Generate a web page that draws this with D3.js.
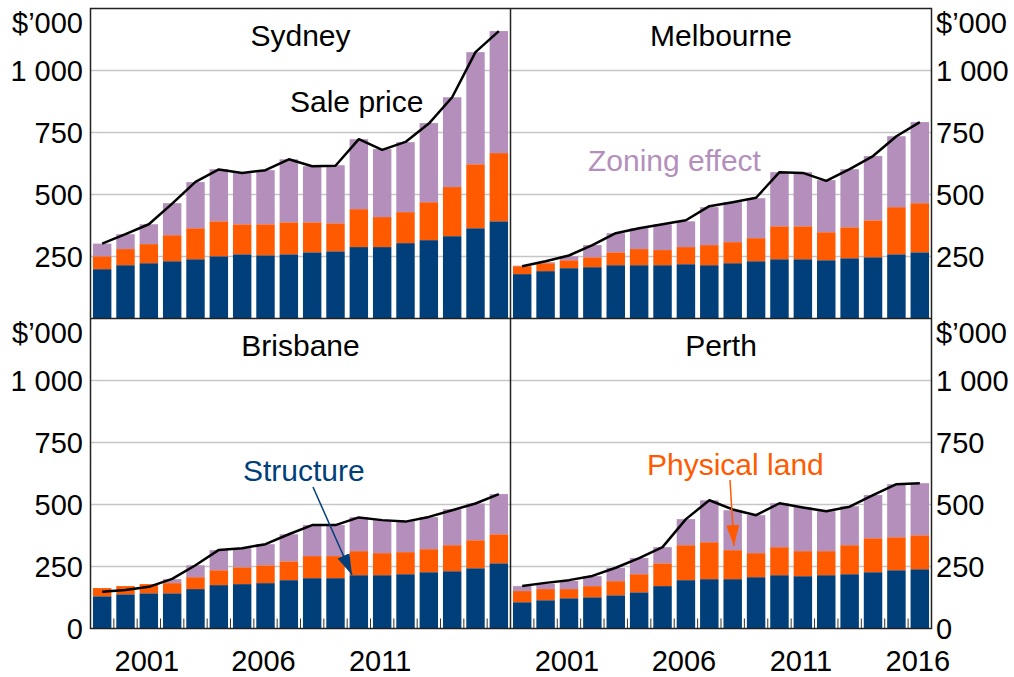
<!DOCTYPE html>
<html>
<head>
<meta charset="utf-8">
<script src="https://d3js.org/d3.v7.min.js"></script>
<style>
  body { margin: 0; background: #fff; }
  svg { display: block; font-family: "Liberation Sans", Arial, sans-serif; }
</style>
</head>
<body>
<div id="chart"></div>
<script>
// years shown on the x axis (one bar per year)
var years = d3.range(1999, 2017);
var yearLabels = [2001, 2006, 2011, 2016];
var yTicks = [250, 500, 750, 1000];

// $'000
var sydStructure = [199,215,223,231,239,251,259,255,259,267,271,288,288,304,316,332,364,392];
var sydLand      = [52,65,77,105,125,141,121,125,129,121,113,153,121,125,153,198,258,275];
var sydZoning    = [51,60,80,129,186,210,206,218,254,226,234,282,274,282,319,362,452,492];
var sydSale      = [302,340,380,463,551,601,587,598,642,614,616,723,680,712,786,892,1074,1159];

var melStructure = [179,191,203,207,215,215,215,219,215,223,231,239,239,235,243,247,259,267];
var melLand      = [32,32,32,40,52,65,61,69,81,85,93,133,133,113,125,149,190,198];
var melZoning    = [2,4,16,49,77,84,104,104,153,161,161,218,218,210,234,259,286,327];
var melSale      = [211,231,254,296,344,364,380,396,453,469,487,590,587,555,602,655,735,792];

var brsStructure = [130,138,142,142,159,175,179,183,195,203,203,215,215,219,227,231,243,263];
var brsLand      = [33,33,37,41,48,60,68,72,76,89,89,97,89,89,93,105,113,117];
var brsZoning    = [0,0,0,16,48,81,77,85,109,125,125,137,133,125,129,145,148,162];
var brsSale      = [148,155,168,200,255,317,324,340,380,417,417,448,437,431,450,477,504,542];

var perStructure = [106,114,122,126,134,146,171,195,199,199,207,215,211,215,219,227,235,239];
var perLand      = [45,45,37,45,57,73,92,141,149,117,97,113,101,97,117,137,133,137];
var perZoning    = [20,22,33,40,54,65,65,105,169,161,153,177,177,161,157,174,214,210];
var perSale      = [171,184,195,212,245,284,328,441,517,480,457,505,488,473,491,538,582,586];

var panels = [
    {name: "Sydney",    col: 0, row: 0, structure: sydStructure, land: sydLand, zoning: sydZoning, sale: sydSale},
    {name: "Melbourne", col: 1, row: 0, structure: melStructure, land: melLand, zoning: melZoning, sale: melSale},
    {name: "Brisbane",  col: 0, row: 1, structure: brsStructure, land: brsLand, zoning: brsZoning, sale: brsSale},
    {name: "Perth",     col: 1, row: 1, structure: perStructure, land: perLand, zoning: perZoning, sale: perSale}
];

var width = 1014,
    height = 677,
    colEdges = [90.5, 510.5, 931.5],
    rowEdges = [8.5, 318.5, 628.5];

var colors = {structure: "#003f7a", land: "#ff5a00", zoning: "#b48fbc"};
var keys = ["structure", "land", "zoning"];

var svg = d3.select("#chart").append("svg")
    .attr("width", width)
    .attr("height", height);

panels.forEach(function(p) {
    var x0 = colEdges[p.col], x1 = colEdges[p.col + 1];
    var y0 = rowEdges[p.row], y1 = rowEdges[p.row + 1];

    var x = d3.scaleBand()
        .domain(years)
        .range([x0, x1])
        .paddingInner(0.21)
        .paddingOuter(0.105);

    var y = d3.scaleLinear()
        .domain([0, 1250])
        .range([y1, y0]);

    var g = svg.append("g");

    // gridlines
    g.selectAll("line.grid")
        .data(yTicks)
        .enter()
        .append("line")
        .attr("x1", x0).attr("x2", x1)
        .attr("y1", function(d) { return y(d); })
        .attr("y2", function(d) { return y(d); })
        .attr("stroke", "#c6c6c6")
        .attr("stroke-width", 1.5);

    var rows = years.map(function(yr, i) {
        return {year: yr, structure: p.structure[i], land: p.land[i], zoning: p.zoning[i]};
    });
    var stacked = d3.stack().keys(keys)(rows);

    g.selectAll("g.layer")
        .data(stacked)
        .enter()
        .append("g")
        .attr("fill", function(d) { return colors[d.key]; })
        .selectAll("rect")
        .data(function(d) { return d; })
        .enter()
        .append("rect")
        .attr("x", function(d) { return x(d.data.year); })
        .attr("width", x.bandwidth())
        .attr("y", function(d) { return y(d[1]); })
        .attr("height", function(d) { return y(d[0]) - y(d[1]); });

    var line = d3.line()
        .x(function(d, i) { return x(years[i]) + x.bandwidth() / 2; })
        .y(function(d) { return y(d); });

    g.append("path")
        .datum(p.sale)
        .attr("d", line)
        .attr("fill", "none")
        .attr("stroke", "#000")
        .attr("stroke-width", 2.5)
        .attr("stroke-linejoin", "round");

    // small ticks between bars on the bottom row
    if (p.row === 1) {
        g.selectAll("line.tick")
            .data(years.slice(1))
            .enter()
            .append("line")
            .attr("x1", function(d) { return x(d) - x.step() * x.paddingInner() / 2; })
            .attr("x2", function(d) { return x(d) - x.step() * x.paddingInner() / 2; })
            .attr("y1", y1)
            .attr("y2", y1 - 10)
            .attr("stroke", "#333")
            .attr("stroke-width", 1);

        g.selectAll("text.year")
            .data(yearLabels.filter(function(d) { return p.col === 1 || d < 2016; }))
            .enter()
            .append("text")
            .attr("x", function(d) { return x(d) + x.bandwidth() / 2 - 2; })
            .attr("y", 671)
            .attr("text-anchor", "middle")
            .attr("font-size", 29)
            .text(function(d) { return d; });
    }

    // panel title
    g.append("text")
        .attr("x", (x0 + x1) / 2)
        .attr("y", y0 + 37)
        .attr("text-anchor", "middle")
        .attr("font-size", 30)
        .text(p.name);

    // y labels, left on first column, right on second
    var labX = p.col === 0 ? 83 : 936;
    var anchor = p.col === 0 ? "end" : "start";
    var labs = (p.row === 1 ? [0] : []).concat(yTicks);

    g.selectAll("text.ylab")
        .data(labs)
        .enter()
        .append("text")
        .attr("x", labX)
        .attr("y", function(d) { return y(d); })
        .attr("dy", "0.36em")
        .attr("text-anchor", anchor)
        .attr("font-size", 29)
        .text(function(d) { return d >= 1000 ? d3.format(",")(d).replace(",", " ") : d; });

    g.append("text")
        .attr("x", labX)
        .attr("y", y0 + 14)
        .attr("dy", "0.36em")
        .attr("text-anchor", anchor)
        .attr("font-size", 29)
        .text("$\u2019000");
});

// panel frames
var frame = svg.append("g")
    .attr("fill", "none")
    .attr("stroke", "#222")
    .attr("stroke-width", 1.5);

frame.append("rect")
    .attr("x", colEdges[0]).attr("y", rowEdges[0])
    .attr("width", colEdges[2] - colEdges[0])
    .attr("height", rowEdges[2] - rowEdges[0]);
frame.append("line")
    .attr("x1", colEdges[1]).attr("x2", colEdges[1])
    .attr("y1", rowEdges[0]).attr("y2", rowEdges[2]);
frame.append("line")
    .attr("x1", colEdges[0]).attr("x2", colEdges[2])
    .attr("y1", rowEdges[1]).attr("y2", rowEdges[1]);

// annotations
var notes = svg.append("g").attr("font-size", 30);

notes.append("text").attr("x", 290).attr("y", 112).attr("fill", "#000").text("Sale price");
notes.append("text").attr("x", 588).attr("y", 171).attr("fill", "#b48fbc").text("Zoning effect");
notes.append("text").attr("x", 243).attr("y", 481).attr("fill", "#003f7a").text("Structure");
notes.append("text").attr("x", 647).attr("y", 475).attr("fill", "#ff5a00").text("Physical land");

var defs = svg.append("defs");
[["arrBlue", "#003f7a"], ["arrOrange", "#ff5a00"]].forEach(function(a) {
    defs.append("marker")
        .attr("id", a[0])
        .attr("viewBox", "0 0 10 10")
        .attr("refX", 10).attr("refY", 5)
        .attr("markerWidth", 21).attr("markerHeight", 13)
        .attr("markerUnits", "userSpaceOnUse")
        .attr("orient", "auto")
        .attr("preserveAspectRatio", "none")
        .append("path")
        .attr("d", "M0,0 L10,5 L0,10 Z")
        .attr("fill", a[1]);
});

notes.append("line")
    .attr("x1", 313).attr("y1", 487).attr("x2", 352).attr("y2", 575)
    .attr("stroke", "#003f7a").attr("stroke-width", 1.5)
    .attr("marker-end", "url(#arrBlue)");
notes.append("line")
    .attr("x1", 730).attr("y1", 480).attr("x2", 734).attr("y2", 546)
    .attr("stroke", "#ff5a00").attr("stroke-width", 1.5)
    .attr("marker-end", "url(#arrOrange)");
</script>
</body>
</html>
